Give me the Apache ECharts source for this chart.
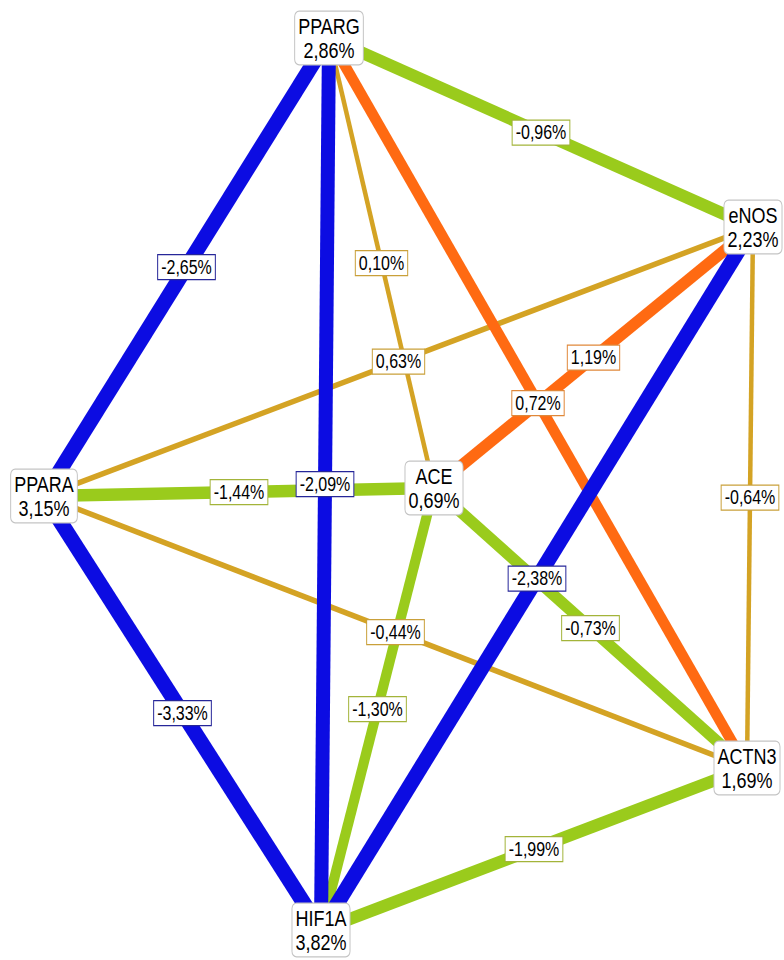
<!DOCTYPE html>
<html>
<head>
<meta charset="utf-8">
<script src="https://cdn.jsdelivr.net/npm/echarts@6/dist/echarts.min.js"></script>
<style>
html,body{margin:0;padding:0;background:#fff;overflow:hidden;}
#wrap{width:784px;height:960px;overflow:hidden;position:relative;}
#chart{width:784px;height:768px;transform:scaleY(1.25);transform-origin:0 0;}
</style>
</head>
<body>
<div id="wrap"><div id="chart"></div></div>
<script>
// Nodes (genes) with their own entropy percentages and plot positions
const nodeNames  = ['PPARG', 'eNOS', 'PPARA', 'ACE', 'ACTN3', 'HIF1A'];
const nodeValues = ['2,86%', '2,23%', '3,15%', '0,69%', '1,69%', '3,82%'];
const nodeX      = [329, 753, 44, 434, 747, 321];
const nodeY      = [38, 227, 496, 488, 768, 930];

// Pairwise interaction entropy links (value in %)
const linkSource = ['PPARG','PPARA','PPARA','eNOS','PPARG','PPARA','ACE','ACE','ACTN3','PPARG','ACE','PPARG','PPARA','PPARG','eNOS'];
const linkTarget = ['ACE','eNOS','ACTN3','ACTN3','eNOS','ACE','ACTN3','HIF1A','HIF1A','ACTN3','eNOS','PPARA','HIF1A','HIF1A','HIF1A'];
const linkValues = [0.10, 0.63, -0.44, -0.64, -0.96, -1.44, -0.73, -1.30, -1.99, 0.72, 1.19, -2.65, -3.33, -2.09, -2.38];
</script>
<script>
const FONT = "'Liberation Sans', Arial, Helvetica, sans-serif";

function fmt(v) {
  return v.toFixed(2).replace('.', ',') + '%';
}
function styleFor(v) {
  if (Math.abs(v) < 0.7) return { color: '#d4a324', width: 4.5, border: '#c9a03a' };
  if (v > 0) return { color: '#ff6a12', width: 10, border: '#e0883a' };
  if (v > -2) return { color: '#9acb1c', width: 10, border: '#a3b43a' };
  return { color: '#0c0ce2', width: 14, border: '#262699' };
}
function rank(v){ if (Math.abs(v) < 0.7) return 0; if (v > 0) return 2; if (v > -2) return 1; return 3; }

const idx = {};
nodeNames.forEach((n, i) => idx[n] = i);

const nodes = nodeNames.map((n, i) => ({
  name: n,
  value: [nodeX[i], nodeY[i]],
  pct: nodeValues[i]
}));

// draw order: gold, green, orange, blue
const order = linkValues.map((v, i) => i).sort((a, b) => rank(linkValues[a]) - rank(linkValues[b]));

const links = order.map(i => {
  const s = styleFor(linkValues[i]);
  return {
    source: linkSource[i],
    target: linkTarget[i],
    lineStyle: { color: s.color, width: s.width, opacity: 1, curveness: 0 }
  };
});

const edgeLabels = order.map(i => {
  const a = idx[linkSource[i]], b = idx[linkTarget[i]];
  const s = styleFor(linkValues[i]);
  return {
    value: [(nodeX[a] + nodeX[b]) / 2, (nodeY[a] + nodeY[b]) / 2],
    text: fmt(linkValues[i]),
    label: { borderColor: s.border }
  };
});

const chart = echarts.init(document.getElementById('chart'), null, { renderer: 'svg' });
chart.setOption({
  backgroundColor: '#ffffff',
  animation: false,
  grid: { left: 0, right: 0, top: 0, bottom: 0 },
  xAxis: { type: 'value', min: 0, max: 784, show: false },
  yAxis: { type: 'value', min: 0, max: 960, inverse: true, show: false },
  series: [
    {
      type: 'graph',
      layout: 'none',
      coordinateSystem: 'cartesian2d',
      symbol: 'circle',
      symbolSize: 1,
      itemStyle: { color: 'rgba(0,0,0,0)' },
      z: 2,
      data: nodes,
      links: links,
      edgeLabel: { show: false },
      emphasis: { disabled: true },
      label: {
        show: true,
        position: 'inside',
        formatter: p => p.data.name + '\n' + p.data.pct,
        color: '#000',
        fontFamily: FONT,
        fontSize: 18,
        lineHeight: 19,
        align: 'center',
        backgroundColor: '#ffffff',
        borderColor: '#c4c4c4',
        borderWidth: 1,
        borderRadius: 4,
        padding: [2, 3, 2, 3]
      }
    },
    {
      type: 'scatter',
      z: 3,
      symbolSize: 0,
      silent: true,
      itemStyle: { opacity: 1 },
      data: edgeLabels,
      label: {
        show: true,
        position: 'inside',
        formatter: p => p.data.text,
        color: '#000',
        fontFamily: FONT,
        fontSize: 16,
        lineHeight: 16,
        backgroundColor: '#ffffff',
        borderWidth: 1,
        padding: [2, 3, 1, 3]
      }
    }
  ]
});
</script>
</body>
</html>
